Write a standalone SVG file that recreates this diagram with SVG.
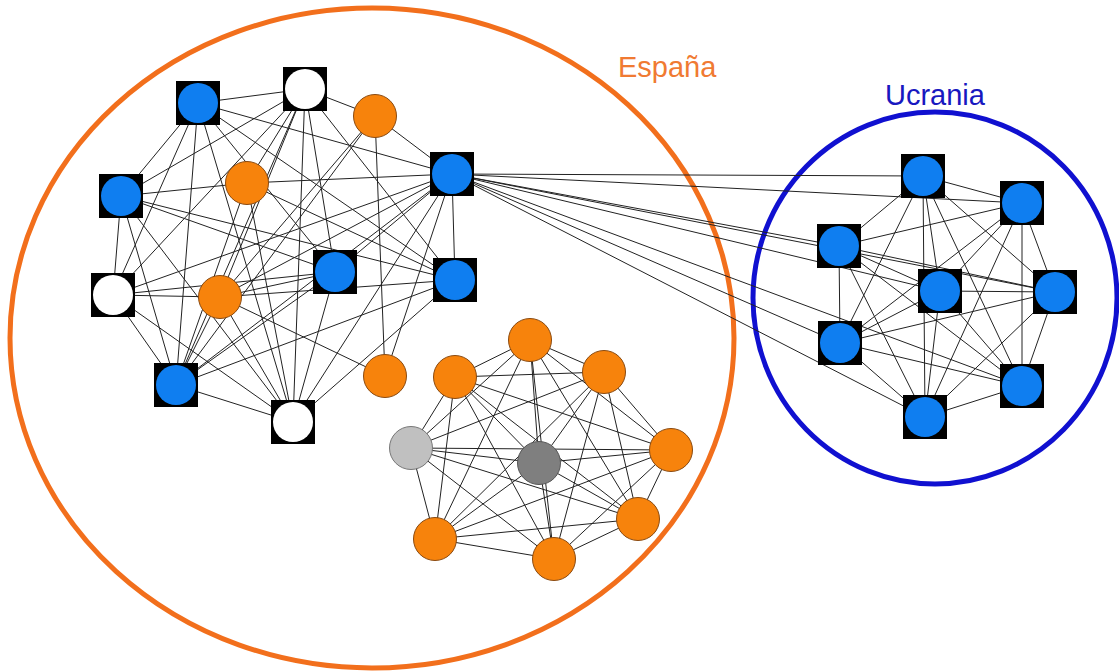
<svg xmlns="http://www.w3.org/2000/svg" width="1119" height="672" viewBox="0 0 1119 672">
<style>
.e line{stroke:#222;stroke-width:1}
.sq{fill:#000}
.bl{fill:#0f7ef0}
.wh{fill:#fff}
.or{fill:#f7830c;stroke:#8a4a10;stroke-width:1}
.lg{fill:#c0c0c0;stroke:#777;stroke-width:1}
.dg{fill:#7f7f7f;stroke:#555;stroke-width:1}
.lab{font-family:"Liberation Sans",Arial,sans-serif;font-size:29px}
</style>
<rect width="1119" height="672" fill="#fff"/>
<g id="regions">
<ellipse cx="372" cy="338" rx="362" ry="330" fill="none" stroke="#f26f1c" stroke-width="5"/>
<ellipse cx="935" cy="298" rx="182" ry="186" fill="none" stroke="#1010d0" stroke-width="5"/>
<text class="lab" x="618" y="77" fill="#f07a32">España</text>
<text class="lab" x="885" y="105" fill="#1818c0">Ucrania</text>
</g>
<g id="connectors" class="e">
<!-- top Spain cluster -->
<line x1="198" y1="103" x2="305" y2="89"/>
<line x1="198" y1="103" x2="452" y2="174"/>
<line x1="198" y1="103" x2="121" y2="196"/>
<line x1="198" y1="103" x2="113" y2="295"/>
<line x1="198" y1="103" x2="176" y2="385"/>
<line x1="198" y1="103" x2="293" y2="422"/>
<line x1="198" y1="103" x2="335" y2="272"/>
<line x1="198" y1="103" x2="455" y2="280"/>
<line x1="305" y1="89" x2="375" y2="116"/>
<line x1="305" y1="89" x2="121" y2="196"/>
<line x1="305" y1="89" x2="247" y2="183"/>
<line x1="305" y1="89" x2="220" y2="297"/>
<line x1="305" y1="89" x2="176" y2="385"/>
<line x1="305" y1="89" x2="293" y2="422"/>
<line x1="305" y1="89" x2="335" y2="272"/>
<line x1="305" y1="89" x2="455" y2="280"/>
<line x1="305" y1="89" x2="113" y2="295"/>
<line x1="375" y1="116" x2="452" y2="174"/>
<line x1="375" y1="116" x2="176" y2="385"/>
<line x1="375" y1="116" x2="220" y2="297"/>
<line x1="375" y1="116" x2="385" y2="376"/>
<line x1="452" y1="174" x2="247" y2="183"/>
<line x1="452" y1="174" x2="335" y2="272"/>
<line x1="452" y1="174" x2="455" y2="280"/>
<line x1="452" y1="174" x2="113" y2="295"/>
<line x1="452" y1="174" x2="220" y2="297"/>
<line x1="452" y1="174" x2="176" y2="385"/>
<line x1="452" y1="174" x2="293" y2="422"/>
<line x1="452" y1="174" x2="385" y2="376"/>
<line x1="121" y1="196" x2="247" y2="183"/>
<line x1="121" y1="196" x2="113" y2="295"/>
<line x1="121" y1="196" x2="176" y2="385"/>
<line x1="121" y1="196" x2="293" y2="422"/>
<line x1="121" y1="196" x2="335" y2="272"/>
<line x1="121" y1="196" x2="455" y2="280"/>
<line x1="247" y1="183" x2="293" y2="422"/>
<line x1="247" y1="183" x2="176" y2="385"/>
<line x1="247" y1="183" x2="455" y2="280"/>
<line x1="335" y1="272" x2="113" y2="295"/>
<line x1="335" y1="272" x2="220" y2="297"/>
<line x1="335" y1="272" x2="176" y2="385"/>
<line x1="335" y1="272" x2="293" y2="422"/>
<line x1="455" y1="280" x2="176" y2="385"/>
<line x1="455" y1="280" x2="293" y2="422"/>
<line x1="455" y1="280" x2="220" y2="297"/>
<line x1="113" y1="295" x2="220" y2="297"/>
<line x1="113" y1="295" x2="176" y2="385"/>
<line x1="113" y1="295" x2="293" y2="422"/>
<line x1="220" y1="297" x2="176" y2="385"/>
<line x1="220" y1="297" x2="293" y2="422"/>
<line x1="220" y1="297" x2="385" y2="376"/>
<line x1="176" y1="385" x2="293" y2="422"/>
<!-- Spain to Ukraine -->
<line x1="452" y1="174" x2="923" y2="176"/>
<line x1="452" y1="174" x2="1022" y2="203"/>
<line x1="452" y1="174" x2="839" y2="246"/>
<line x1="452" y1="174" x2="940" y2="291"/>
<line x1="452" y1="174" x2="1055" y2="292"/>
<line x1="452" y1="174" x2="840" y2="343"/>
<line x1="452" y1="174" x2="1022" y2="386"/>
<line x1="452" y1="174" x2="925" y2="417"/>
<!-- bottom cluster (N O P Q R S T U V) -->
<line x1="455" y1="377" x2="530" y2="340"/>
<line x1="455" y1="377" x2="604" y2="372"/>
<line x1="455" y1="377" x2="411" y2="448"/>
<line x1="455" y1="377" x2="539" y2="463"/>
<line x1="455" y1="377" x2="671" y2="450"/>
<line x1="455" y1="377" x2="638" y2="519"/>
<line x1="455" y1="377" x2="435" y2="539"/>
<line x1="455" y1="377" x2="554" y2="559"/>
<line x1="530" y1="340" x2="604" y2="372"/>
<line x1="530" y1="340" x2="411" y2="448"/>
<line x1="530" y1="340" x2="539" y2="463"/>
<line x1="530" y1="340" x2="671" y2="450"/>
<line x1="530" y1="340" x2="638" y2="519"/>
<line x1="530" y1="340" x2="435" y2="539"/>
<line x1="530" y1="340" x2="554" y2="559"/>
<line x1="604" y1="372" x2="411" y2="448"/>
<line x1="604" y1="372" x2="539" y2="463"/>
<line x1="604" y1="372" x2="671" y2="450"/>
<line x1="604" y1="372" x2="638" y2="519"/>
<line x1="604" y1="372" x2="435" y2="539"/>
<line x1="604" y1="372" x2="554" y2="559"/>
<line x1="411" y1="448" x2="539" y2="463"/>
<line x1="411" y1="448" x2="671" y2="450"/>
<line x1="411" y1="448" x2="638" y2="519"/>
<line x1="411" y1="448" x2="435" y2="539"/>
<line x1="411" y1="448" x2="554" y2="559"/>
<line x1="539" y1="463" x2="671" y2="450"/>
<line x1="539" y1="463" x2="638" y2="519"/>
<line x1="539" y1="463" x2="435" y2="539"/>
<line x1="539" y1="463" x2="554" y2="559"/>
<line x1="671" y1="450" x2="638" y2="519"/>
<line x1="671" y1="450" x2="435" y2="539"/>
<line x1="671" y1="450" x2="554" y2="559"/>
<line x1="638" y1="519" x2="435" y2="539"/>
<line x1="638" y1="519" x2="554" y2="559"/>
<line x1="435" y1="539" x2="554" y2="559"/>
<!-- Ukraine cluster -->
<line x1="923" y1="176" x2="1022" y2="203"/>
<line x1="923" y1="176" x2="839" y2="246"/>
<line x1="923" y1="176" x2="940" y2="291"/>
<line x1="923" y1="176" x2="1055" y2="292"/>
<line x1="923" y1="176" x2="840" y2="343"/>
<line x1="923" y1="176" x2="1022" y2="386"/>
<line x1="923" y1="176" x2="925" y2="417"/>
<line x1="1022" y1="203" x2="839" y2="246"/>
<line x1="1022" y1="203" x2="940" y2="291"/>
<line x1="1022" y1="203" x2="1055" y2="292"/>
<line x1="1022" y1="203" x2="840" y2="343"/>
<line x1="1022" y1="203" x2="1022" y2="386"/>
<line x1="1022" y1="203" x2="925" y2="417"/>
<line x1="839" y1="246" x2="940" y2="291"/>
<line x1="839" y1="246" x2="1055" y2="292"/>
<line x1="839" y1="246" x2="840" y2="343"/>
<line x1="839" y1="246" x2="1022" y2="386"/>
<line x1="839" y1="246" x2="925" y2="417"/>
<line x1="940" y1="291" x2="1055" y2="292"/>
<line x1="940" y1="291" x2="840" y2="343"/>
<line x1="940" y1="291" x2="1022" y2="386"/>
<line x1="940" y1="291" x2="925" y2="417"/>
<line x1="1055" y1="292" x2="840" y2="343"/>
<line x1="1055" y1="292" x2="1022" y2="386"/>
<line x1="1055" y1="292" x2="925" y2="417"/>
<line x1="840" y1="343" x2="1022" y2="386"/>
<line x1="840" y1="343" x2="925" y2="417"/>
<line x1="1022" y1="386" x2="925" y2="417"/>
</g>
<g id="A"><rect class="sq" x="176" y="81" width="44" height="44"/><circle class="bl" cx="198" cy="103" r="20"/></g>
<g id="B"><rect class="sq" x="283" y="67" width="44" height="44"/><circle class="wh" cx="305" cy="89" r="20"/></g>
<g id="C"><circle class="or" cx="375" cy="116" r="21.5"/></g>
<g id="D"><rect class="sq" x="430" y="152" width="44" height="44"/><circle class="bl" cx="452" cy="174" r="20"/></g>
<g id="E"><rect class="sq" x="99" y="174" width="44" height="44"/><circle class="bl" cx="121" cy="196" r="20"/></g>
<g id="F"><circle class="or" cx="247" cy="183" r="21.5"/></g>
<g id="G"><rect class="sq" x="313" y="250" width="44" height="44"/><circle class="bl" cx="335" cy="272" r="20"/></g>
<g id="H"><rect class="sq" x="433" y="258" width="44" height="44"/><circle class="bl" cx="455" cy="280" r="20"/></g>
<g id="I"><rect class="sq" x="91" y="273" width="44" height="44"/><circle class="wh" cx="113" cy="295" r="20"/></g>
<g id="J"><circle class="or" cx="220" cy="297" r="21.5"/></g>
<g id="K"><rect class="sq" x="154" y="363" width="44" height="44"/><circle class="bl" cx="176" cy="385" r="20"/></g>
<g id="L"><rect class="sq" x="271" y="400" width="44" height="44"/><circle class="wh" cx="293" cy="422" r="20"/></g>
<g id="M"><circle class="or" cx="385" cy="376" r="21.5"/></g>
<g id="N"><circle class="or" cx="455" cy="377" r="21.5"/></g>
<g id="O"><circle class="or" cx="530" cy="340" r="21.5"/></g>
<g id="P"><circle class="or" cx="604" cy="372" r="21.5"/></g>
<g id="Q"><circle class="lg" cx="411" cy="448" r="21.5"/></g>
<g id="R"><circle class="dg" cx="539" cy="463" r="21.5"/></g>
<g id="S"><circle class="or" cx="671" cy="450" r="21.5"/></g>
<g id="T"><circle class="or" cx="638" cy="519" r="21.5"/></g>
<g id="U"><circle class="or" cx="435" cy="539" r="21.5"/></g>
<g id="V"><circle class="or" cx="554" cy="559" r="21.5"/></g>
<g id="W1"><rect class="sq" x="901" y="154" width="44" height="44"/><circle class="bl" cx="923" cy="176" r="20"/></g>
<g id="W2"><rect class="sq" x="1000" y="181" width="44" height="44"/><circle class="bl" cx="1022" cy="203" r="20"/></g>
<g id="W3"><rect class="sq" x="817" y="224" width="44" height="44"/><circle class="bl" cx="839" cy="246" r="20"/></g>
<g id="W4"><rect class="sq" x="918" y="269" width="44" height="44"/><circle class="bl" cx="940" cy="291" r="20"/></g>
<g id="W5"><rect class="sq" x="1033" y="270" width="44" height="44"/><circle class="bl" cx="1055" cy="292" r="20"/></g>
<g id="W6"><rect class="sq" x="818" y="321" width="44" height="44"/><circle class="bl" cx="840" cy="343" r="20"/></g>
<g id="W7"><rect class="sq" x="1000" y="364" width="44" height="44"/><circle class="bl" cx="1022" cy="386" r="20"/></g>
<g id="W8"><rect class="sq" x="903" y="395" width="44" height="44"/><circle class="bl" cx="925" cy="417" r="20"/></g>
</svg>
